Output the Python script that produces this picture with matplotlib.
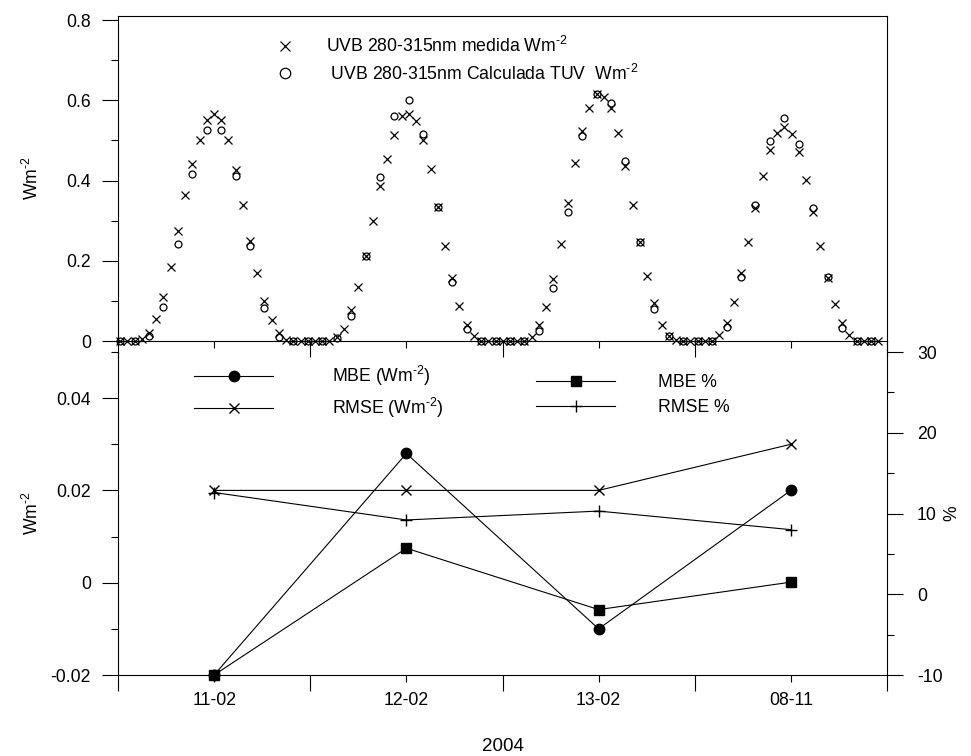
import matplotlib
matplotlib.use('Agg')
import matplotlib.pyplot as plt
import numpy as np
from matplotlib.ticker import FixedLocator, FixedFormatter, MultipleLocator

plt.rcParams['font.family'] = ['Liberation Sans', 'DejaVu Sans']
plt.rcParams['mathtext.fontset'] = 'custom'
plt.rcParams['mathtext.rm'] = 'Liberation Sans'
plt.rcParams['mathtext.default'] = 'regular'
plt.rcParams['font.size'] = 12.7

# ---------------- data ----------------
# measured UVB (sample every step), calculated TUV (every second sample)
uvb_medida = [
    0, 0, 0, 0.005, 0.02, 0.055, 0.11, 0.185, 0.275, 0.365, 0.44, 0.50, 0.55, 0.565,
    0.55, 0.50, 0.425, 0.34, 0.25, 0.17, 0.10, 0.052, 0.02, 0.003, 0, 0, 0,
    0, 0, 0, 0.009, 0.031, 0.077, 0.135, 0.213, 0.30, 0.387, 0.454, 0.514, 0.56, 0.566,
    0.549, 0.502, 0.429, 0.335, 0.238, 0.157, 0.088, 0.04, 0.013, 0, 0, 0,
    0, 0, 0, 0, 0.009, 0.04, 0.085, 0.154, 0.243, 0.345, 0.444, 0.524, 0.58, 0.615,
    0.609, 0.581, 0.518, 0.435, 0.338, 0.247, 0.161, 0.095, 0.041, 0.012, 0.002, 0, 0,
    0, 0, 0, 0.014, 0.045, 0.098, 0.170, 0.247, 0.331, 0.411, 0.476, 0.518, 0.534,
    0.516, 0.470, 0.402, 0.321, 0.236, 0.156, 0.091, 0.044, 0.015, 0, 0, 0, 0,
]
uvb_calculada = [
    0, 0, 0.012, 0.085, 0.243, 0.417, 0.527, 0.527, 0.412, 0.236, 0.082, 0.01, 0, 0,
    0, 0.008, 0.062, 0.213, 0.408, 0.56, 0.601, 0.516, 0.335, 0.147, 0.031, 0, 0,
    0, 0, 0.026, 0.132, 0.321, 0.510, 0.615, 0.592, 0.448, 0.247, 0.081, 0.012, 0,
    0, 0, 0.036, 0.160, 0.340, 0.498, 0.556, 0.491, 0.332, 0.160, 0.032, 0, 0,
]

dias = ['11-02', '12-02', '13-02', '08-11']
mbe_wm2 = [-0.02, 0.028, -0.01, 0.02]
rmse_wm2 = [0.02, 0.02, 0.02, 0.03]
mbe_pct = [-10, 5.7, -1.9, 1.5]
rmse_pct = [12.6, 9.2, 10.3, 8.0]

top_yticks = [0, 0.2, 0.4, 0.6, 0.8]
top_yticklabels = ['0', '0.2', '0.4', '0.6', '0.8']
bot_yticks = [-0.02, 0, 0.02, 0.04]
bot_yticklabels = ['-0.02', '0', '0.02', '0.04']
pct_yticks = [-10, 0, 10, 20, 30]
pct_yticklabels = ['-10', '0', '10', '20', '30']

# ---------------- layout ----------------
W, H = 971, 756
fig = plt.figure(figsize=(W / 100, H / 100), dpi=100)
x0, x1 = 118, 887
ax_t = fig.add_axes([x0 / W, 1 - 341 / H, (x1 - x0) / W, (341 - 16) / H])
ax_b = fig.add_axes([x0 / W, 1 - 675 / H, (x1 - x0) / W, (675 - 341) / H])
ax_p = ax_b.twinx()

n = len(uvb_medida)
xi = np.arange(n)
xc = np.arange(0, 2 * len(uvb_calculada), 2)
edges = np.linspace(-0.29, 106.22, len(dias) + 1)
centers = (edges[:-1] + edges[1:]) / 2

lw = 0.8
MAJ, MIN = 11.5, 5.0

# ---------------- top panel ----------------
ax_t.plot(xi, uvb_medida, ls='none', marker='x', ms=5.2, mew=0.9, color='black',
          clip_on=False, label='UVB 280-315nm medida Wm$^{\\text{-2}}$')
ax_t.plot(xc, uvb_calculada, ls='none', marker='o', ms=5.0, mew=0.9, mfc='none',
          color='black', clip_on=False, label=' UVB 280-315nm Calculada TUV  Wm$^{\\text{-2}}$')
ax_t.set_xlim(edges[0], edges[-1])
ax_t.set_ylim(0, 0.81)
ax_t.yaxis.set_major_locator(FixedLocator(top_yticks))
ax_t.yaxis.set_major_formatter(FixedFormatter(top_yticklabels))
ax_t.yaxis.set_minor_locator(MultipleLocator(0.1))
ax_t.xaxis.set_major_locator(FixedLocator(edges))
ax_t.xaxis.set_minor_locator(FixedLocator(centers))
ax_t.tick_params(axis='x', which='both', bottom=True, top=False, labelbottom=False,
                 direction='out', width=lw)
ax_t.tick_params(axis='x', which='major', length=MAJ)
ax_t.tick_params(axis='x', which='minor', length=MIN)
ax_t.tick_params(axis='y', which='major', direction='out', length=MAJ, width=lw, pad=8)
ax_t.tick_params(axis='y', which='minor', direction='out', length=MIN, width=lw)
for s in ax_t.spines.values():
    s.set_linewidth(lw)
ax_t.set_ylabel('Wm$^{\\text{-2}}$')
ax_t.yaxis.set_label_coords(-0.099, 0.5)
ax_t.patch.set_visible(False)

# ---------------- bottom panel ----------------
ax_b.plot(centers, mbe_wm2, color='black', lw=lw, marker='o', ms=7.5, clip_on=False,
          label='MBE (Wm$^{\\text{-2}}$)')
ax_b.plot(centers, rmse_wm2, color='black', lw=lw, marker='x', ms=7.5, mew=1.0,
          clip_on=False, label='RMSE (Wm$^{\\text{-2}}$)')
ax_p.plot(centers, mbe_pct, color='black', lw=lw, marker='s', ms=7.5, clip_on=False,
          label='MBE %')
ax_p.plot(centers, rmse_pct, color='black', lw=lw, marker='+', ms=8, mew=1.0,
          clip_on=False, label='RMSE %')

ax_b.set_xlim(edges[0], edges[-1])
ax_b.set_ylim(-0.02, -0.02 + 0.02 / 92.3 * 334)
ax_p.set_ylim(-10, -10 + 10 / 80.75 * 334)
ax_b.yaxis.set_major_locator(FixedLocator(bot_yticks))
ax_b.yaxis.set_major_formatter(FixedFormatter(bot_yticklabels))
ax_b.yaxis.set_minor_locator(FixedLocator([-0.01, 0.01, 0.03, 0.05]))
ax_p.yaxis.set_major_locator(FixedLocator(pct_yticks))
ax_p.yaxis.set_major_formatter(FixedFormatter(pct_yticklabels))
ax_p.yaxis.set_minor_locator(FixedLocator([-5, 5, 15, 25]))
ax_b.xaxis.set_major_locator(FixedLocator(edges))
ax_b.xaxis.set_major_formatter(FixedFormatter([''] * len(edges)))
ax_b.xaxis.set_minor_locator(FixedLocator(centers))
ax_b.xaxis.set_minor_formatter(FixedFormatter(dias))
ax_b.tick_params(axis='x', which='both', direction='out', width=lw, top=False)
ax_b.tick_params(axis='x', which='major', length=MAJ)
ax_b.tick_params(axis='x', which='minor', length=MIN, pad=7)
ax_b.tick_params(axis='y', which='major', direction='out', length=MAJ, width=lw, pad=8)
ax_b.tick_params(axis='y', which='minor', direction='out', length=MIN, width=lw)
ax_p.tick_params(axis='y', which='major', direction='out', length=MAJ, width=lw, pad=10)
ax_p.tick_params(axis='y', which='minor', direction='out', length=MIN, width=lw)
ax_b.spines['top'].set_visible(False)
ax_p.spines['top'].set_visible(False)
ax_b.spines['right'].set_visible(False)
ax_p.spines['left'].set_visible(False)
ax_p.spines['bottom'].set_visible(False)
ax_b.spines['left'].set_bounds(-0.02, 0.05)
for a in (ax_b, ax_p):
    for s in a.spines.values():
        s.set_linewidth(lw)
ax_b.patch.set_visible(False)
ax_p.patch.set_visible(False)

ax_b.set_ylabel('Wm$^{\\text{-2}}$')
ax_b.yaxis.set_label_coords(-0.099, 0.5 - 11 / 334 / 2)
ax_p.set_ylabel('%')
ax_p.yaxis.set_label_coords(1.073, 0.5 - 11 / 334 / 2)
ax_b.set_xlabel('2004', fontsize=13.5, labelpad=21)

# ---------------- legends ----------------
h_t, l_t = ax_t.get_legend_handles_labels()
fig.legend(h_t, l_t, loc='center left', bbox_to_anchor=(278 / W, 1 - 60 / H),
           frameon=False, handlelength=0.8, handletextpad=1.9, labelspacing=0.4,
           borderpad=0, borderaxespad=0, markerscale=1.5)
h1, l1 = ax_b.get_legend_handles_labels()
fig.legend(h1, l1, loc='center left', bbox_to_anchor=(194 / W, 1 - 392 / H),
           frameon=False, handlelength=4.5, handletextpad=3.35, labelspacing=0.45,
           borderpad=0, borderaxespad=0)
h2, l2 = ax_p.get_legend_handles_labels()
fig.legend(h2, l2, loc='center left', bbox_to_anchor=(536 / W, 1 - 395 / H),
           frameon=False, handlelength=4.5, handletextpad=2.4, labelspacing=0.45,
           borderpad=0, borderaxespad=0)

fig.savefig('out.png', dpi=100)
